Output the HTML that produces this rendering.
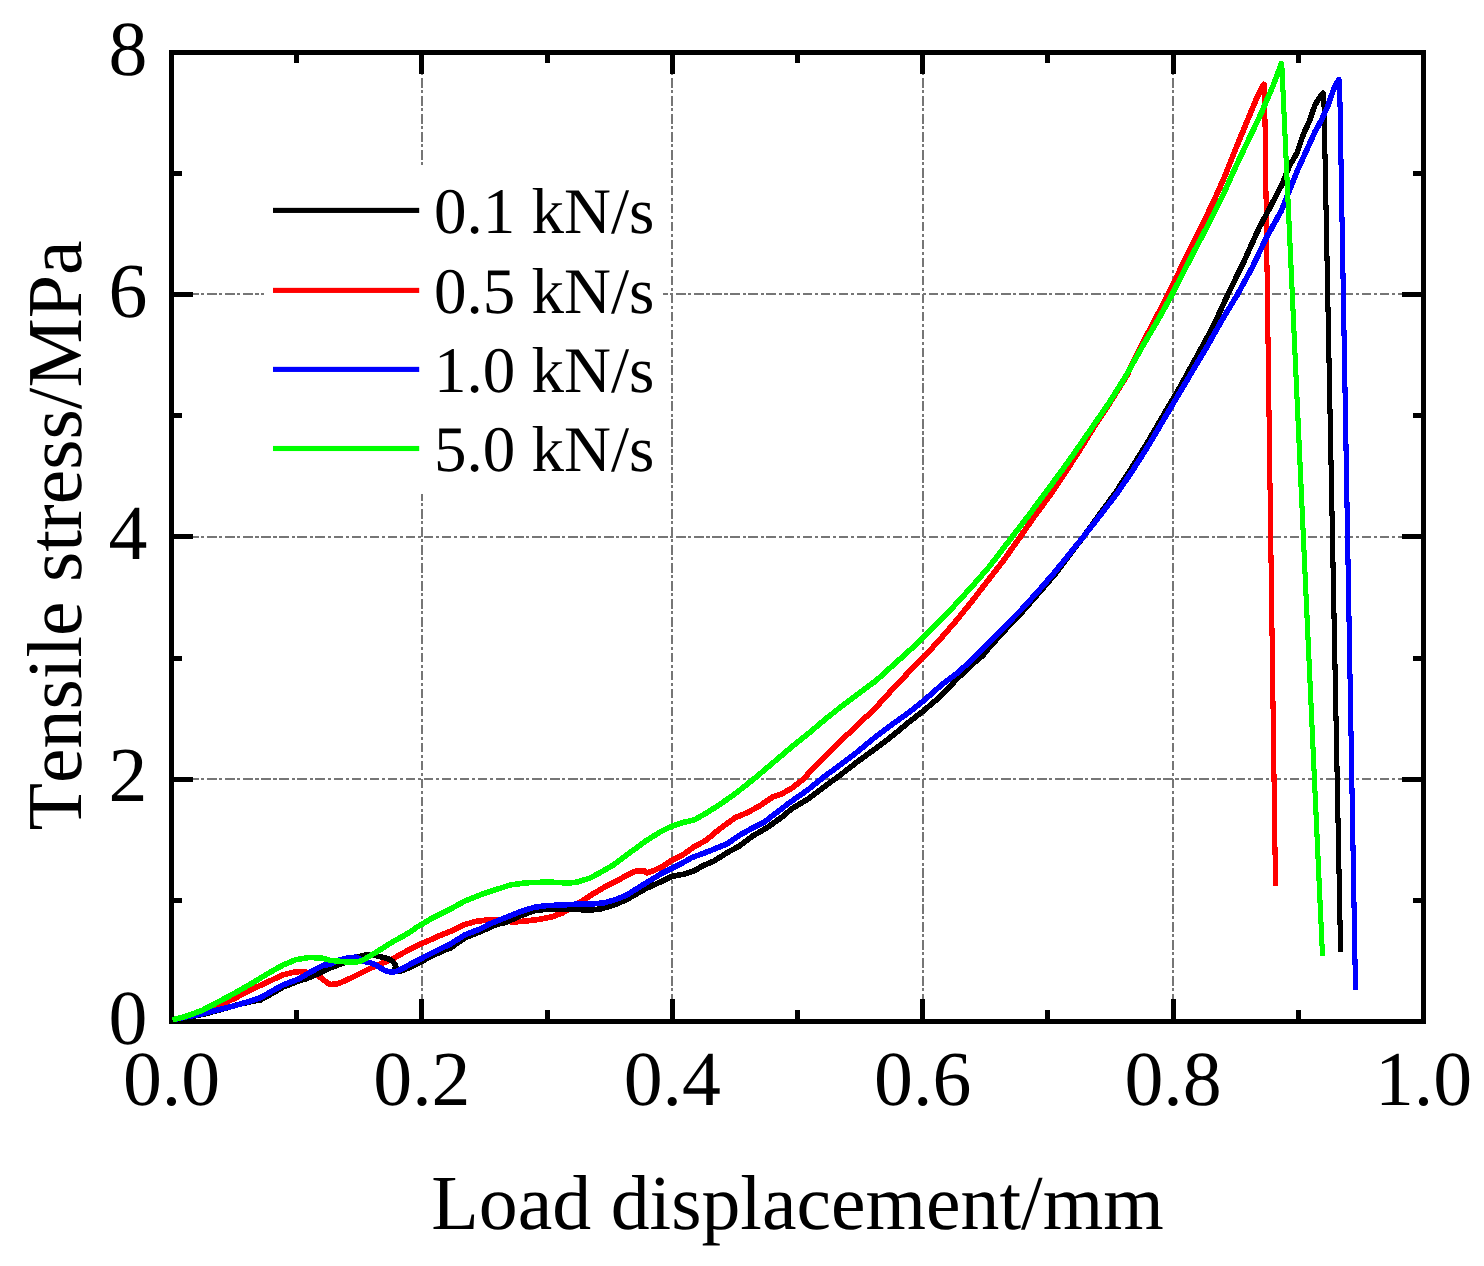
<!DOCTYPE html>
<html><head><meta charset="utf-8"><title>Tensile stress vs load displacement</title>
<style>
html,body{margin:0;padding:0;background:#fff;}
body{width:1484px;height:1266px;overflow:hidden;}
svg{display:block;font-kerning:none;text-rendering:geometricPrecision;font-family:"Liberation Serif","Times New Roman",Times,serif;}
</style></head><body>
<svg width="1484" height="1266" viewBox="0 0 1484 1266">
<rect width="1484" height="1266" fill="#fff"/>
<line x1="422" y1="52.5" x2="422" y2="1021.5" stroke="#767676" stroke-width="2" stroke-dasharray="9.6 2.5 3.1 2.76" stroke-dashoffset="10.3" shape-rendering="crispEdges"/>
<line x1="672" y1="52.5" x2="672" y2="1021.5" stroke="#767676" stroke-width="2" stroke-dasharray="9.6 2.5 3.1 2.76" stroke-dashoffset="10.3" shape-rendering="crispEdges"/>
<line x1="923" y1="52.5" x2="923" y2="1021.5" stroke="#767676" stroke-width="2" stroke-dasharray="9.6 2.5 3.1 2.76" stroke-dashoffset="10.3" shape-rendering="crispEdges"/>
<line x1="1173" y1="52.5" x2="1173" y2="1021.5" stroke="#767676" stroke-width="2" stroke-dasharray="9.6 2.5 3.1 2.76" stroke-dashoffset="10.3" shape-rendering="crispEdges"/>
<line x1="171.5" y1="779" x2="1423.5" y2="779" stroke="#767676" stroke-width="2" stroke-dasharray="9.6 2.5 3.1 2.84" stroke-dashoffset="0.34" shape-rendering="crispEdges"/>
<line x1="171.5" y1="537" x2="1423.5" y2="537" stroke="#767676" stroke-width="2" stroke-dasharray="9.6 2.5 3.1 2.84" stroke-dashoffset="0.34" shape-rendering="crispEdges"/>
<line x1="171.5" y1="294" x2="1423.5" y2="294" stroke="#767676" stroke-width="2" stroke-dasharray="9.6 2.5 3.1 2.84" stroke-dashoffset="0.34" shape-rendering="crispEdges"/>
<rect x="264" y="165" width="399" height="329" fill="#fff"/>
<rect x="273" y="207.85" width="146.2" height="5.1" fill="#000"/>
<text x="434" y="232.7" font-size="65">0.1 kN/s</text>
<rect x="273" y="287.85" width="146.2" height="5.1" fill="#f00"/>
<text x="434" y="312.7" font-size="65">0.5 kN/s</text>
<rect x="273" y="366.85" width="146.2" height="5.1" fill="#00f"/>
<text x="434" y="391.7" font-size="65">1.0 kN/s</text>
<rect x="273" y="445.95" width="146.2" height="5.1" fill="#0f0"/>
<text x="434" y="470.8" font-size="65">5.0 kN/s</text>
<g stroke="#000" stroke-width="5.0" shape-rendering="crispEdges"><line x1="171.50" y1="1021.5" x2="171.50" y2="999.00"/>
<line x1="171.50" y1="52.5" x2="171.50" y2="74.00"/>
<line x1="296.70" y1="1021.5" x2="296.70" y2="1010.00"/>
<line x1="296.70" y1="52.5" x2="296.70" y2="63.00"/>
<line x1="421.90" y1="1021.5" x2="421.90" y2="999.00"/>
<line x1="421.90" y1="52.5" x2="421.90" y2="74.00"/>
<line x1="547.10" y1="1021.5" x2="547.10" y2="1010.00"/>
<line x1="547.10" y1="52.5" x2="547.10" y2="63.00"/>
<line x1="672.30" y1="1021.5" x2="672.30" y2="999.00"/>
<line x1="672.30" y1="52.5" x2="672.30" y2="74.00"/>
<line x1="797.50" y1="1021.5" x2="797.50" y2="1010.00"/>
<line x1="797.50" y1="52.5" x2="797.50" y2="63.00"/>
<line x1="922.70" y1="1021.5" x2="922.70" y2="999.00"/>
<line x1="922.70" y1="52.5" x2="922.70" y2="74.00"/>
<line x1="1047.90" y1="1021.5" x2="1047.90" y2="1010.00"/>
<line x1="1047.90" y1="52.5" x2="1047.90" y2="63.00"/>
<line x1="1173.10" y1="1021.5" x2="1173.10" y2="999.00"/>
<line x1="1173.10" y1="52.5" x2="1173.10" y2="74.00"/>
<line x1="1298.30" y1="1021.5" x2="1298.30" y2="1010.00"/>
<line x1="1298.30" y1="52.5" x2="1298.30" y2="63.00"/>
<line x1="1423.50" y1="1021.5" x2="1423.50" y2="999.00"/>
<line x1="1423.50" y1="52.5" x2="1423.50" y2="74.00"/>
<line x1="171.5" y1="1021.50" x2="193.00" y2="1021.50"/>
<line x1="1423.5" y1="1021.50" x2="1402.00" y2="1021.50"/>
<line x1="171.5" y1="900.38" x2="182.00" y2="900.38"/>
<line x1="1423.5" y1="900.38" x2="1413.00" y2="900.38"/>
<line x1="171.5" y1="779.25" x2="193.00" y2="779.25"/>
<line x1="1423.5" y1="779.25" x2="1402.00" y2="779.25"/>
<line x1="171.5" y1="658.12" x2="182.00" y2="658.12"/>
<line x1="1423.5" y1="658.12" x2="1413.00" y2="658.12"/>
<line x1="171.5" y1="536.40" x2="193.00" y2="536.40"/>
<line x1="1423.5" y1="536.40" x2="1402.00" y2="536.40"/>
<line x1="171.5" y1="415.88" x2="182.00" y2="415.88"/>
<line x1="1423.5" y1="415.88" x2="1413.00" y2="415.88"/>
<line x1="171.5" y1="294.75" x2="193.00" y2="294.75"/>
<line x1="1423.5" y1="294.75" x2="1402.00" y2="294.75"/>
<line x1="171.5" y1="173.62" x2="182.00" y2="173.62"/>
<line x1="1423.5" y1="173.62" x2="1413.00" y2="173.62"/>
<line x1="171.5" y1="52.50" x2="193.00" y2="52.50"/>
<line x1="1423.5" y1="52.50" x2="1402.00" y2="52.50"/></g>
<rect x="171.5" y="52.5" width="1252.0" height="969.00" fill="none" stroke="#000" stroke-width="5.0" shape-rendering="crispEdges"/>
<polyline points="172.4,1020.0 190.0,1015.5 207.2,1011.0 218.5,1005.9 234.7,998.3 250.9,989.8 267.0,982.3 283.2,974.8 292.9,972.4 299.4,971.6 307.5,972.4 315.6,974.5 322.0,978.5 326.9,982.6 330.0,984.5 336.5,984.1 342.1,982.0 350.2,978.4 358.3,974.4 366.4,970.3 370.4,968.3 378.5,964.7 386.6,961.4 394.7,957.8 402.8,953.2 410.9,948.7 418.9,944.7 427.0,941.3 435.1,937.7 443.2,934.1 450.0,931.6 464.7,924.6 476.0,921.4 490.6,919.6 500.3,920.4 513.2,922.0 526.2,921.0 539.1,919.4 552.0,916.7 561.7,913.4 571.4,907.8 582.8,900.5 594.1,893.2 605.4,886.7 616.7,881.1 626.4,875.4 634.5,871.4 640.0,870.9 644.6,871.1 647.0,873.0 652.6,871.1 662.3,866.6 672.0,860.1 683.4,854.5 694.7,846.4 706.0,840.4 719.0,829.4 735.1,817.7 746.5,813.0 759.4,806.1 772.3,797.2 782.0,793.7 791.7,788.3 803.1,779.4 811.1,770.5 824.1,757.4 840.3,741.2 856.4,726.2 876.2,707.2 892.3,689.4 908.5,672.4 923.1,657.8 940.9,638.4 957.0,619.8 973.2,599.6 989.4,578.6 1003.9,560.0 1020.4,536.6 1035.0,515.6 1051.2,493.7 1065.7,471.9 1080.3,449.2 1094.8,425.8 1110.2,402.3 1126.4,376.5 1140.7,346.6 1155.3,319.1 1168.2,294.0 1186.0,257.6 1201.4,226.9 1216.7,194.6 1224.3,177.4 1236.4,147.0 1248.5,117.9 1257.0,97.3 1261.9,87.2 1263.9,84.4 1264.5,85.2" fill="none" stroke="#f00" stroke-width="5.7" stroke-linejoin="round" stroke-linecap="butt" shape-rendering="crispEdges"/><polyline points="1263.9,84.4 1264.5,85.2 1275.5,885.8" fill="none" stroke="#f00" stroke-width="5.1" stroke-linejoin="round" stroke-linecap="butt" shape-rendering="crispEdges"/>
<polyline points="172.4,1020.2 186.2,1017.4 202.3,1014.5 218.5,1010.3 234.7,1005.5 250.9,1001.6 260.6,999.9 267.0,996.4 283.2,987.0 299.4,980.7 307.5,978.3 319.0,973.3 330.0,968.0 336.5,965.6 342.1,963.6 352.0,959.2 362.3,955.5 368.0,954.9 373.7,955.2 378.5,956.3 383.4,957.5 388.2,958.7 392.3,961.1 395.1,964.4 395.9,966.8 394.7,968.7 393.9,970.4 398.7,971.6 402.8,970.4 410.9,966.9 418.9,962.8 427.0,958.6 435.1,954.5 443.2,950.7 450.0,948.3 464.7,938.0 480.9,931.5 497.0,924.2 505.1,922.7 521.3,915.5 534.2,910.8 545.6,909.3 561.7,908.8 577.9,909.6 590.8,910.1 602.2,908.6 615.1,904.5 626.4,899.7 646.2,888.4 662.3,881.1 672.0,876.3 683.4,874.3 694.7,870.6 702.8,865.8 714.1,860.9 727.0,852.8 740.0,845.6 752.9,835.9 767.5,827.4 782.0,817.0 791.7,808.8 807.9,799.1 824.1,786.9 840.3,775.0 856.4,762.5 876.2,748.1 892.3,735.9 908.5,722.5 923.1,711.1 940.9,696.0 957.0,678.9 973.2,663.5 982.9,655.4 989.4,647.3 1005.6,629.5 1021.7,612.6 1037.9,594.0 1054.1,575.4 1083.5,536.6 1100.0,513.8 1115.5,492.7 1131.0,468.9 1147.0,443.3 1163.0,415.8 1179.0,388.8 1202.2,346.6 1213.5,325.6 1228.1,294.0 1244.2,260.9 1258.8,228.5 1271.7,204.3 1282.5,183.4 1289.8,165.2 1297.0,153.1 1303.1,134.9 1309.2,121.6 1315.2,104.6 1320.1,96.8 1323.0,93.0 1323.8,94.0" fill="none" stroke="#000" stroke-width="5.6" stroke-linejoin="round" stroke-linecap="butt" shape-rendering="crispEdges"/><polyline points="1323.0,93.0 1323.8,94.0 1340.6,952.2" fill="none" stroke="#000" stroke-width="5.1" stroke-linejoin="round" stroke-linecap="butt" shape-rendering="crispEdges"/>
<polyline points="172.4,1019.8 186.2,1016.9 202.3,1013.9 218.5,1009.8 234.7,1005.7 250.9,1000.9 260.6,997.7 267.0,993.9 283.2,984.8 299.4,978.7 307.5,973.8 315.6,969.3 323.6,965.2 330.0,964.4 338.9,960.3 347.8,957.9 355.9,957.1 364.0,961.5 370.4,962.7 375.3,964.6 380.1,967.6 385.0,970.7 389.0,971.7 393.1,972.1 397.1,971.0 402.8,968.4 410.9,963.9 418.9,959.9 427.0,955.5 435.1,951.4 443.2,947.5 450.0,944.2 464.7,935.0 480.9,928.6 490.6,923.5 505.1,917.7 521.3,911.4 534.2,907.3 545.6,905.7 561.7,905.0 577.9,904.1 594.1,903.8 603.8,902.9 615.1,899.7 626.4,895.2 646.2,882.8 662.3,873.1 672.0,868.2 683.4,862.5 691.5,857.7 702.8,853.6 714.1,849.1 727.0,843.9 740.0,835.0 752.9,827.8 764.2,822.1 775.6,813.2 791.7,801.1 807.9,789.8 824.1,776.8 840.3,764.7 856.4,752.6 876.2,736.3 892.3,724.3 908.5,712.7 923.1,701.2 940.9,685.5 957.0,673.2 973.2,658.7 989.4,642.5 1005.6,625.5 1021.7,609.3 1037.9,591.5 1054.1,572.9 1083.5,536.6 1101.3,513.9 1117.5,492.8 1133.6,469.0 1149.8,443.3 1166.0,415.7 1182.2,388.4 1207.0,346.6 1221.6,320.7 1237.8,294.0 1252.3,267.3 1266.9,236.6 1281.4,210.7 1297.0,171.3 1309.2,144.6 1315.2,131.3 1321.3,120.4 1327.4,107.0 1333.4,90.0 1337.1,82.2 1338.8,79.7 1339.6,80.7" fill="none" stroke="#00f" stroke-width="5.6" stroke-linejoin="round" stroke-linecap="butt" shape-rendering="crispEdges"/><polyline points="1338.8,79.7 1339.6,80.7 1355.5,989.8" fill="none" stroke="#00f" stroke-width="5.1" stroke-linejoin="round" stroke-linecap="butt" shape-rendering="crispEdges"/>
<polyline points="172.4,1019.9 186.2,1016.2 202.3,1010.3 218.5,1001.8 234.7,993.1 250.9,983.9 267.0,974.1 283.2,964.9 296.2,959.6 309.1,957.5 322.0,958.0 330.0,960.3 338.1,961.1 346.2,961.9 355.1,962.3 362.3,960.5 370.4,955.7 378.5,950.8 386.6,945.6 394.7,940.7 402.8,936.3 410.9,931.6 416.2,927.6 432.3,918.1 448.5,910.1 464.7,901.1 480.9,894.6 497.0,889.3 510.0,885.0 526.2,882.8 545.6,882.1 558.5,882.4 568.2,883.2 577.9,881.9 590.8,877.8 602.2,871.4 613.5,864.9 626.4,855.2 646.2,840.7 662.3,830.7 672.0,826.2 683.4,822.4 694.7,819.7 706.0,813.2 719.0,805.1 735.1,793.8 754.5,778.4 775.6,760.6 791.7,746.9 807.9,734.0 824.1,720.2 840.3,707.3 860.0,692.6 876.2,680.5 892.3,665.9 908.5,651.4 923.1,637.6 940.9,619.8 957.0,602.9 973.2,585.1 989.4,566.5 1012.3,536.6 1028.5,515.6 1044.7,493.7 1060.9,471.9 1077.0,449.2 1093.2,425.8 1109.4,402.3 1125.6,376.5 1142.3,346.6 1158.5,319.1 1172.3,294.0 1190.9,257.6 1207.0,226.9 1223.2,194.6 1236.4,165.2 1248.5,139.8 1260.7,114.3 1272.8,86.4 1278.8,70.6 1281.2,63.8 1281.8,64.5" fill="none" stroke="#0f0" stroke-width="5.6" stroke-linejoin="round" stroke-linecap="butt" shape-rendering="crispEdges"/><polyline points="1281.2,63.8 1281.8,64.5 1322.5,955.7" fill="none" stroke="#0f0" stroke-width="5.1" stroke-linejoin="round" stroke-linecap="butt" shape-rendering="crispEdges"/>
<g font-size="77.8" fill="#000"><text x="171.50" y="1104.7" text-anchor="middle">0.0</text>
<text x="421.90" y="1104.7" text-anchor="middle">0.2</text>
<text x="672.30" y="1104.7" text-anchor="middle">0.4</text>
<text x="922.70" y="1104.7" text-anchor="middle">0.6</text>
<text x="1173.10" y="1104.7" text-anchor="middle">0.8</text>
<text x="1423.50" y="1104.7" text-anchor="middle">1.0</text>
<text x="147.3" y="1043.70" text-anchor="end">0</text>
<text x="147.3" y="801.45" text-anchor="end">2</text>
<text x="147.3" y="559.20" text-anchor="end">4</text>
<text x="147.3" y="316.95" text-anchor="end">6</text>
<text x="147.3" y="74.70" text-anchor="end">8</text></g>
<text x="797.55" y="1229.2" font-size="77.8" text-anchor="middle" fill="#000">Load displacement/mm</text>
<text transform="translate(80.9,535.5) rotate(-90)" font-size="77.8" text-anchor="middle" fill="#000">Tensile stress/MPa</text>
</svg>
</body></html>
